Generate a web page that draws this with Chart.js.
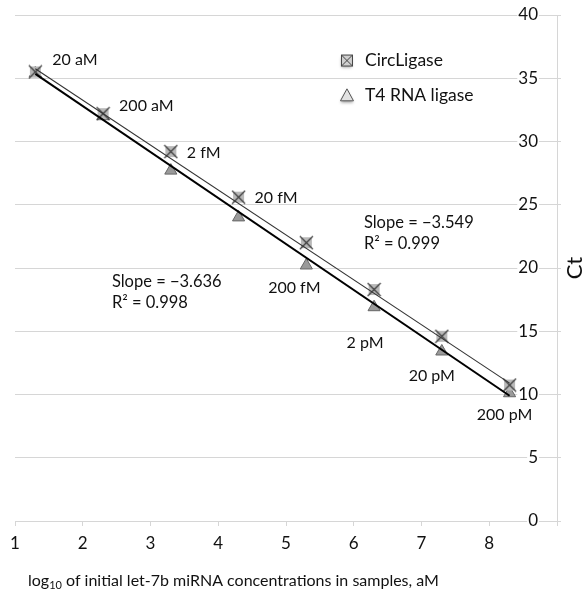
<!DOCTYPE html>
<html>
<head>
<meta charset="utf-8">
<script src="https://cdn.jsdelivr.net/npm/chart.js@4.4.1/dist/chart.umd.min.js"></script>
<style>
  body { margin: 0; background: #fff; }
  #wrap { width: 585px; height: 592px; position: relative; }
</style>
</head>
<body>
<div id="wrap"><canvas id="chart"></canvas></div>
<script>
// --- data ---
const concLabels = ['20 aM', '200 aM', '2 fM', '20 fM', '200 fM', '2 pM', '20 pM', '200 pM'];
const logConc = [1.3, 2.3, 3.3, 4.3, 5.3, 6.3, 7.3, 8.3];
const circCt = [35.5, 32.2, 29.2, 25.6, 22.0, 18.3, 14.6, 10.75];
const t4Ct = [35.4, 32.0, 27.7, 24.0, 20.2, 16.9, 13.4, 10.1];
// trend line end points
const fitX = [1.3, 8.3];
const circFitY = [35.75, 10.9];
const t4FitY = [35.35, 9.9];
const xTicks = [1, 2, 3, 4, 5, 6, 7, 8, 9];
const yTicks = [0, 5, 10, 15, 20, 25, 30, 35, 40];

const FONT = 'Lato, "Open Sans", sans-serif';
const TXT = '#111';
const GRID = '#d6d6d6';

// label placement next to the points: [dx, dy, align, which series]
const labelPlace = [
  [17, -12, 'left', 'c'], [16, -8, 'left', 'c'], [16, 1, 'left', 'c'], [16, 1, 'left', 'c'],
  [-12, 22, 'center', 't'], [-9, 36, 'center', 't'], [-10, 24, 'center', 't'], [-5, 22, 'center', 't']
];

function boxX(size, fill, stroke) {
  const c = document.createElement('canvas');
  c.width = c.height = size;
  const g = c.getContext('2d');
  g.fillStyle = fill;
  g.fillRect(2, 2, size - 4, size - 4);
  g.strokeStyle = stroke;
  g.lineWidth = 1.2;
  g.beginPath();
  g.moveTo(1, 1); g.lineTo(size - 1, size - 1);
  g.moveTo(size - 1, 1); g.lineTo(1, size - 1);
  g.stroke();
  return c;
}
const circMarker = boxX(15, '#b9b9b9', '#3a3a3a');

const pts = (xs, ys) => xs.map((x, i) => ({ x: x, y: ys[i] }));

const extras = {
  id: 'extras',
  afterDatasetsDraw(chart) {
    const ctx = chart.ctx;
    const xs = chart.scales.x, ys = chart.scales.y;
    ctx.save();
    ctx.fillStyle = TXT;
    ctx.textBaseline = 'middle';
    ctx.font = '16px ' + FONT;
    // concentration labels
    concLabels.forEach((lab, i) => {
      const p = labelPlace[i];
      const yv = p[3] === 'c' ? circCt[i] : t4Ct[i];
      ctx.textAlign = p[2];
      ctx.fillText(lab, xs.getPixelForValue(logConc[i]) + p[0], ys.getPixelForValue(yv) + p[1]);
    });
    // slope annotations
    ctx.textAlign = 'left';
    ctx.font = '16.5px ' + FONT;
    ctx.fillText('Slope = \u22123.549', xs.getPixelForValue(6.15), ys.getPixelForValue(23.55));
    ctx.fillText('R\u00b2 = 0.999', xs.getPixelForValue(6.15), ys.getPixelForValue(21.95));
    ctx.fillText('Slope = \u22123.636', xs.getPixelForValue(2.43), ys.getPixelForValue(18.9));
    ctx.fillText('R\u00b2 = 0.998', xs.getPixelForValue(2.43), ys.getPixelForValue(17.25));

    // legend
    const lx = xs.getPixelForValue(5.9);
    const ly1 = ys.getPixelForValue(36.4), ly2 = ys.getPixelForValue(33.65);
    ctx.save();
    ctx.shadowColor = 'rgba(0,0,0,0.35)';
    ctx.shadowBlur = 3; ctx.shadowOffsetY = 2;
    ctx.fillStyle = '#cfcfcf';
    ctx.fillRect(lx - 5.5, ly1 - 5.5, 11, 11);
    ctx.beginPath();
    ctx.moveTo(lx, ly2 - 6.5); ctx.lineTo(lx + 6.5, ly2 + 5.5); ctx.lineTo(lx - 6.5, ly2 + 5.5); ctx.closePath();
    ctx.fillStyle = '#e2e2e2';
    ctx.fill();
    ctx.restore();
    ctx.strokeStyle = '#444';
    ctx.lineWidth = 1;
    ctx.strokeRect(lx - 5.5, ly1 - 5.5, 11, 11);
    ctx.beginPath();
    ctx.moveTo(lx - 5.5, ly1 - 5.5); ctx.lineTo(lx + 5.5, ly1 + 5.5);
    ctx.moveTo(lx + 5.5, ly1 - 5.5); ctx.lineTo(lx - 5.5, ly1 + 5.5);
    ctx.stroke();
    ctx.beginPath();
    ctx.moveTo(lx, ly2 - 6.5); ctx.lineTo(lx + 6.5, ly2 + 5.5); ctx.lineTo(lx - 6.5, ly2 + 5.5); ctx.closePath();
    ctx.strokeStyle = '#555';
    ctx.stroke();
    ctx.fillStyle = TXT;
    ctx.font = '17.5px ' + FONT;
    ctx.fillText('CircLigase', lx + 18, ly1);
    ctx.fillText('T4 RNA ligase', lx + 18, ly2);

    // y title, reading upward
    ctx.save();
    ctx.translate(575, (ys.top + ys.bottom) / 2);
    ctx.rotate(-Math.PI / 2);
    ctx.textAlign = 'center';
    ctx.font = '22px ' + FONT;
    ctx.fillText('Ct', 0, 0);
    ctx.restore();

    // x title with subscript
    ctx.font = '16px ' + FONT;
    let tx = 28;
    const ty = 581;
    ctx.fillText('log', tx, ty);
    tx += ctx.measureText('log').width;
    ctx.font = '11px ' + FONT;
    ctx.fillText('10', tx, ty + 4);
    tx += ctx.measureText('10').width;
    ctx.font = '16px ' + FONT;
    ctx.fillText(' of initial let-7b miRNA concentrations in samples, aM', tx, ty);
    ctx.restore();
  }
};

new Chart(document.getElementById('chart'), {
  type: 'scatter',
  data: {
    datasets: [
      { label: 'CircLigase fit', type: 'line', data: pts(fitX, circFitY), borderColor: '#333', borderWidth: 1.1, pointRadius: 0, order: 0 },
      { label: 'T4 fit', type: 'line', data: pts(fitX, t4FitY), borderColor: '#000', borderWidth: 2, pointRadius: 0, order: 0 },
      { label: 'CircLigase', data: pts(logConc, circCt), pointStyle: circMarker, pointRadius: 7, order: 1 },
      { label: 'T4 RNA ligase', data: pts(logConc, t4Ct), pointStyle: 'triangle', pointRadius: 7,
        backgroundColor: '#9a9a9a', borderColor: '#666', borderWidth: 1, order: 1 }
    ]
  },
  options: {
    responsive: true,
    maintainAspectRatio: false,
    animation: false,
    layout: { padding: { left: 15, top: 15, right: 0, bottom: 0 } },
    plugins: { legend: { display: false }, tooltip: { enabled: false } },
    scales: {
      x: {
        type: 'linear', min: 1, max: 9,
        afterBuildTicks: s => { s.ticks = xTicks.map(v => ({ value: v })); },
        afterFit: s => { s.height = 71; },
        ticks: { color: TXT, font: { family: FONT, size: 17 }, padding: 7,
          callback: v => (v === 9 ? '' : v) },
        grid: { drawOnChartArea: false, drawTicks: true, tickLength: 5, color: GRID },
        border: { color: GRID }
      },
      y: {
        type: 'linear', position: 'right', min: 0, max: 40,
        afterBuildTicks: s => { s.ticks = yTicks.map(v => ({ value: v })); },
        afterFit: s => { s.width = 28; },
        ticks: { color: TXT, font: { family: FONT, size: 17 }, mirror: true, padding: -19,
          showLabelBackdrop: true, backdropColor: '#fff', backdropPadding: { x: 1, y: 0 } },
        grid: { color: GRID, tickLength: 4 },
        border: { color: GRID }
      }
    }
  },
  plugins: [extras]
});
</script>
</body>
</html>
